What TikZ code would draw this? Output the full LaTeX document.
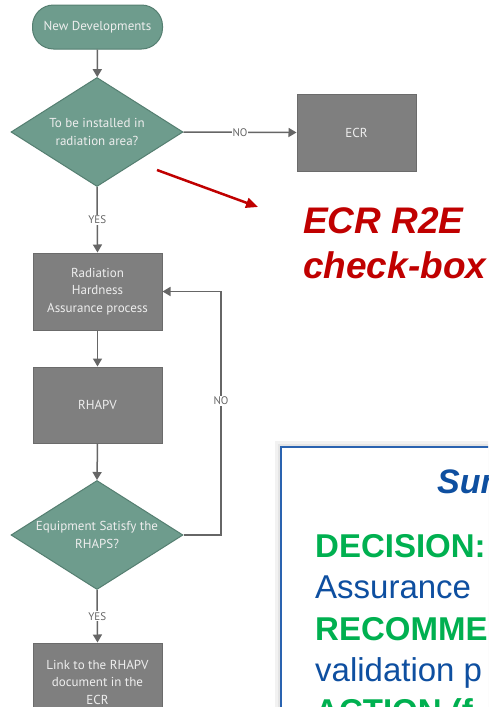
\documentclass[tikz,border=0pt]{standalone}
\usepackage{fontspec}
\setmainfont{Liberation Sans}
\newfontfamily\flowfont{PT Sans}
\usetikzlibrary{arrows.meta,shapes.geometric}
\definecolor{teal1}{HTML}{6E9C8D}
\definecolor{tealb}{HTML}{557F71}
\definecolor{grayfill}{HTML}{7F7F7F}
\definecolor{grayb}{HTML}{6B6B6B}
\definecolor{linegray}{HTML}{666666}
\definecolor{txtlight}{HTML}{EEEEEE}
\definecolor{redc}{HTML}{C00000}
\definecolor{bluet}{HTML}{0E4FA0}
\definecolor{blueb}{HTML}{2A63B0}
\definecolor{greent}{HTML}{00B050}
\tikzset{
  flow/.style={font=\flowfont\fontsize{13}{17.5}\selectfont, text=txtlight, align=center},
  term/.style={flow, rectangle, rounded corners=21pt, fill=teal1, draw=tealb, line width=1pt, minimum width=130pt, minimum height=44pt},
  decision/.style={diamond, fill=teal1, draw=tealb, line width=1pt, minimum width=172pt, minimum height=109pt, inner sep=0pt},
  procbox/.style={flow, rectangle, fill=grayfill, draw=grayb, line width=1pt, minimum width=129pt, minimum height=77pt},
  arr/.style={draw=linegray, line width=1.5pt, -{Triangle[width=9pt,length=8pt]}},
  ln/.style={draw=linegray, line width=1.5pt},
  lbl/.style={font=\flowfont\fontsize{11}{13}\selectfont, text=linegray, fill=white, inner sep=1pt},
  redtxt/.style={font=\fontsize{37}{45}\selectfont\bfseries\itshape, text=redc, inner sep=0pt, anchor=base west},
  sumgreen/.style={font=\fontsize{33}{41}\selectfont\bfseries, text=greent, inner sep=0pt, anchor=base west},
  sumblue/.style={font=\fontsize{33}{41}\selectfont, text=bluet, inner sep=0pt, anchor=base west},
  sumbox/.style={draw=blueb, line width=2pt, fill=white, minimum width=338pt, minimum height=332pt}
}
\begin{document}
\begin{tikzpicture}[x=1pt,y=-1pt]
\useasboundingbox (0,0) rectangle (488,707);
\clip (0,0) rectangle (488,707);
\fill[white] (0,0) rectangle (488,707);

% flowchart nodes
\node[term] (start) at (97.5,27) {New Developments};
\node[decision] (d1) at (97,132) {};
\node[flow] (d1t) at (d1.center) {To be installed in\\radiation area?};
\node[procbox, minimum width=119pt] (ecr) at (356.5,132.5) {ECR};
\node[procbox] (rha) at (97.5,291.5) {Radiation\\Hardness\\Assurance process};
\node[procbox, minimum height=76pt] (rhapv) at (97.5,405) {RHAPV};
\node[decision] (d2) at (97,535) {};
\node[flow] (d2t) at (d2.center) {Equipment Satisfy the\\RHAPS?};
\node[procbox, minimum height=78pt] (link) at (97.5,682) {Link to the RHAPV\\document in the\\ECR};

% connectors
\draw[arr] (start) -- (d1);
\draw[arr] (d1.east) -- node[lbl] {NO} (ecr.west);
\draw[arr] (d1.south) -- node[lbl] {YES} (rha.north);
\draw[arr] (rha.south) -- (rhapv.north);
\draw[arr] (rhapv.south) -- (d2.north);
\coordinate (loopx) at (221,0);
\draw[arr] (d2.east) -- (d2.east -| loopx) -- node[lbl, pos=0.55] {NO} (rha.east -| loopx) -- (rha.east);
\draw[arr] (d2.south) -- node[lbl] {YES} (link.north);

% red annotation
\coordinate (ra) at (157,170);
\coordinate (rb) at (258,207);
\draw[redc, line width=2.5pt, -{Triangle[width=10pt,length=12pt]}] (ra) -- (rb);
\node[redtxt] (r1) at (303,233) {ECR R2E};
\node[redtxt] (r2) at (303,278) {check-box};

% summary box
\fill[black, opacity=0.05] (275,441) rectangle (630,790);
\fill[black, opacity=0.05] (278,444) rectangle (630,790);
\node[sumbox] (sumbox) at (450,613) {};
\node[font=\fontsize{34}{40}\selectfont\bfseries\itshape, text=bluet, inner sep=0pt, anchor=base west] (sumt) at (437,493) {Summary};
\node[sumgreen] (s1) at (315,557) {DECISION:};
\node[sumblue] (s2) at (315,598) {Assurance};
\node[sumgreen] (s3) at (315,640) {RECOMMENDATION:};
\node[sumblue] (s4) at (315,681) {validation p};
\node[sumgreen] (s5) at (315,722) {ACTION (f};
\end{tikzpicture}
\end{document}
